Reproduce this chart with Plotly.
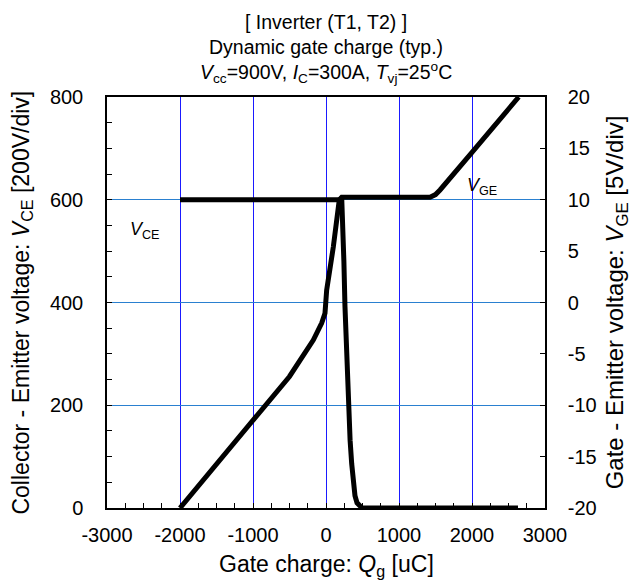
import plotly.graph_objects as go

# Gate charge [uC] vs collector-emitter voltage [V]
q_vce = [-2000, 200, 215, 230, 245, 260, 282, 305, 330, 352, 375, 397, 425, 456, 493, 2630]
vce = [600, 600, 604, 555, 480, 392, 292, 200, 132, 86, 50, 24, 10, 4, 0, 0]

# Gate charge [uC] vs gate-emitter voltage [V]
q_vge = [-2000, -1500, -1000, -500, -174, -100, -59, -14, 9, 100, 182, 215,
         1425, 1500, 1562, 2000, 2640]
vge = [-20, -15.7, -11.45, -7.2, -3.65, -2.7, -2.0, -1.05, 1.2, 5.4, 10.0, 10.25,
       10.25, 10.5, 10.95, 14.6, 20]

x_ticks = [-3000, -2000, -1000, 0, 1000, 2000, 3000]
x_labels = ["-3000", "-2000", "-1000", "0", "1000", "2000", "3000"]
vce_ticks = [0, 200, 400, 600, 800]
vce_labels = ["0", "200", "400", "600", "800"]
vge_ticks = [-20, -15, -10, -5, 0, 5, 10, 15, 20]
vge_labels = ["-20", "-15", "-10", "-5", "0", "5", "10", "15", "20"]

FONT = "Liberation Sans, Arial, sans-serif"
TS = 19.5      # title
TICK = 20      # tick labels
AX = 23        # axis titles

fig = go.Figure()
fig.add_trace(go.Scatter(x=q_vce, y=vce, mode="lines", yaxis="y",
                         line=dict(color="black", width=5), showlegend=False))
fig.add_trace(go.Scatter(x=q_vge, y=vge, mode="lines", yaxis="y2",
                         line=dict(color="black", width=5), showlegend=False))

fig.update_layout(
    width=636, height=582,
    margin=dict(l=107, r=91, t=97, b=74),
    paper_bgcolor="white", plot_bgcolor="white",
    font=dict(family=FONT, size=TICK, color="black"),
    xaxis=dict(
        range=[-3000, 3000], tickvals=x_ticks, ticktext=x_labels, ticks="inside", ticklen=5,
        tickcolor="black", showline=True, linecolor="black", linewidth=1.5,
        mirror=True, showgrid=True, gridcolor="#1a1aff", gridwidth=1,
        zeroline=False, ticklabelstandoff=8, tickfont=dict(size=TICK),
        minor=dict(dtick=250, ticks="inside", ticklen=5, tickcolor="black", showgrid=False),
    ),
    yaxis=dict(
        range=[0, 800], tickvals=vce_ticks, ticktext=vce_labels, ticks="inside", ticklen=5,
        tickcolor="black", showline=True, linecolor="black", linewidth=1.5,
        showgrid=True, gridcolor="#2a80d0", gridwidth=1, zeroline=False,
        ticklabelstandoff=18, tickfont=dict(size=TICK),
        minor=dict(dtick=50, ticks="inside", ticklen=5, tickcolor="black", showgrid=False),
    ),
    yaxis2=dict(
        range=[-20, 20], tickvals=vge_ticks, ticktext=vge_labels, ticks="inside", ticklen=5,
        tickcolor="black", showline=True, linecolor="black", linewidth=1.5,
        overlaying="y", side="right", showgrid=False, zeroline=False,
        ticklabelstandoff=17, tickfont=dict(size=TICK),
    ),
)

title_lines = [
    "[ Inverter (T1, T2) ]",
    "Dynamic gate charge (typ.)",
    "<i>V</i><sub>cc</sub>=900V, <i>I</i><sub>C</sub>=300A, <i>T</i><sub>vj</sub>=25<sup>o</sup>C",
]
title_y = [1.1825, 1.1217, 1.0608]
for txt, yy in zip(title_lines, title_y):
    fig.add_annotation(text=txt, xref="paper", yref="paper", x=0.5, y=yy,
                       xanchor="center", yanchor="middle", showarrow=False,
                       font=dict(size=TS))

fig.add_annotation(text="Gate charge: <i>Q</i><sub>g</sub> [uC]", xref="paper", yref="paper",
                   x=0.5, y=-0.139, xanchor="center", yanchor="middle",
                   showarrow=False, font=dict(size=AX))
fig.add_annotation(text="Collector - Emitter voltage: <i>V</i><sub>CE</sub> [200V/div]",
                   xref="paper", yref="paper", x=-0.194, y=0.5, textangle=-90,
                   xanchor="center", yanchor="middle", showarrow=False,
                   font=dict(size=AX))
fig.add_annotation(text="Gate - Emitter voltage: <i>V</i><sub>GE</sub> [5V/div]",
                   xref="paper", yref="paper", x=1.164, y=0.5, textangle=-90,
                   xanchor="center", yanchor="middle", showarrow=False,
                   font=dict(size=AX + 1))

# Curve labels
fig.add_annotation(text="<i>V</i><sub>CE</sub>", x=-2480, y=541, xref="x", yref="y",
                   showarrow=False, font=dict(size=18))
fig.add_annotation(text="<i>V</i><sub>GE</sub>", x=2140, y=625, xref="x", yref="y",
                   showarrow=False, font=dict(size=18))

fig.write_html("out.html")
